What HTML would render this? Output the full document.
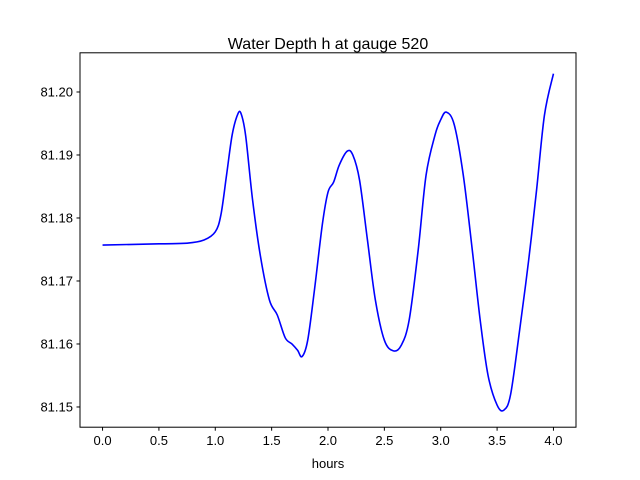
<!DOCTYPE html>
<html><head><meta charset="utf-8"><style>
body{margin:0;background:#fff}
svg{display:block;font-family:"Liberation Sans","DejaVu Sans",sans-serif}
</style></head><body>
<svg id="chart" width="640" height="480" viewBox="0 0 640 480">
<rect width="640" height="480" fill="#fff"/>
<text x="328" y="49" text-anchor="middle" font-size="16">Water Depth h at gauge 520</text>
<g id="series"></g>
<g id="axes"></g>
<rect x="80" y="52.8" width="496" height="374.4" fill="none" stroke="#000" stroke-width="1"/>
<text x="328" y="468" text-anchor="middle" font-size="13">hours</text>
</svg>
<script>
const hours=[0,0.5,0.75,0.9,1.0,1.05,1.1,1.15,1.2,1.23,1.27,1.33,1.4,1.48,1.55,1.62,1.68,1.73,1.77,1.82,1.88,1.95,2.0,2.05,2.1,2.17,2.22,2.28,2.35,2.42,2.5,2.58,2.65,2.72,2.8,2.87,2.95,3.0,3.05,3.12,3.2,3.28,3.35,3.42,3.5,3.56,3.62,3.7,3.78,3.85,3.92,4.0];
const depth=[81.1757,81.1759,81.176,81.1765,81.1778,81.1805,81.1868,81.1932,81.1965,81.1965,81.193,81.183,81.174,81.167,81.1646,81.161,81.160,81.159,81.158,81.1606,81.1686,81.179,81.1841,81.1857,81.1884,81.1906,81.190,81.186,81.1765,81.167,81.1606,81.1589,81.1598,81.1638,81.1749,81.1868,81.1932,81.1956,81.1968,81.1948,81.1868,81.1749,81.1638,81.155,81.1503,81.1495,81.152,81.1622,81.1733,81.1844,81.1963,81.2029];
const xTicks=[0,0.5,1.0,1.5,2.0,2.5,3.0,3.5,4.0];
const xTickLabels=["0.0","0.5","1.0","1.5","2.0","2.5","3.0","3.5","4.0"];
const yTicks=[81.15,81.16,81.17,81.18,81.19,81.20];
const yTickLabels=["81.150","81.160","81.170","81.180","81.190","81.200"];

const L=80,R=576,T=52.8,B=427.2;
const xMin=-0.2,xMax=4.2,yMin=81.14679,yMax=81.20622;
const xs=v=>L+(v-xMin)/(xMax-xMin)*(R-L);
const ys=v=>B-(v-yMin)/(yMax-yMin)*(B-T);
const NS="http://www.w3.org/2000/svg";
const axes=document.getElementById('axes');
xTicks.forEach((t,i)=>{
  const x=xs(t);
  const l=document.createElementNS(NS,'line');
  l.setAttribute('x1',x);l.setAttribute('x2',x);l.setAttribute('y1',B);l.setAttribute('y2',B+3.5);l.setAttribute('stroke','#000');
  
  
  axes.appendChild(l);
  const tx=document.createElementNS(NS,'text');
  tx.setAttribute('x',x);tx.setAttribute('y',B+18);tx.setAttribute('text-anchor','middle');tx.setAttribute('font-size','13');
  tx.textContent=xTickLabels[i];
  
  
  axes.appendChild(tx);
});
yTicks.forEach((t,i)=>{
  const y=ys(t);
  const l=document.createElementNS(NS,'line');
  l.setAttribute('x1',L-3.5);l.setAttribute('x2',L);l.setAttribute('y1',y);l.setAttribute('y2',y);l.setAttribute('stroke','#000');
  
  
  axes.appendChild(l);
  const tx=document.createElementNS(NS,'text');
  tx.setAttribute('x',L-7);tx.setAttribute('y',y+4.5);tx.setAttribute('text-anchor','end');tx.setAttribute('font-size','13');
  tx.textContent=yTickLabels[i].replace(/0$/,'');
  
  
  axes.appendChild(tx);
});
const pts=hours.map((h,i)=>[xs(h),ys(depth[i])]);
let d=`M${pts[0][0]},${pts[0][1]}`;
for(let i=0;i<pts.length-1;i++){
  const p0=pts[Math.max(0,i-1)],p1=pts[i],p2=pts[i+1],p3=pts[Math.min(pts.length-1,i+2)];
  const c1=[p1[0]+(p2[0]-p0[0])/6,p1[1]+(p2[1]-p0[1])/6];
  const c2=[p2[0]-(p3[0]-p1[0])/6,p2[1]-(p3[1]-p1[1])/6];
  d+=` C${c1[0]},${c1[1]} ${c2[0]},${c2[1]} ${p2[0]},${p2[1]}`;
}
const path=document.createElementNS(NS,'path');
path.setAttribute('d',d);path.setAttribute('fill','none');path.setAttribute('stroke','#0000ff');path.setAttribute('stroke-width','1.6');


document.getElementById('series').appendChild(path);
</script>
</body></html>
